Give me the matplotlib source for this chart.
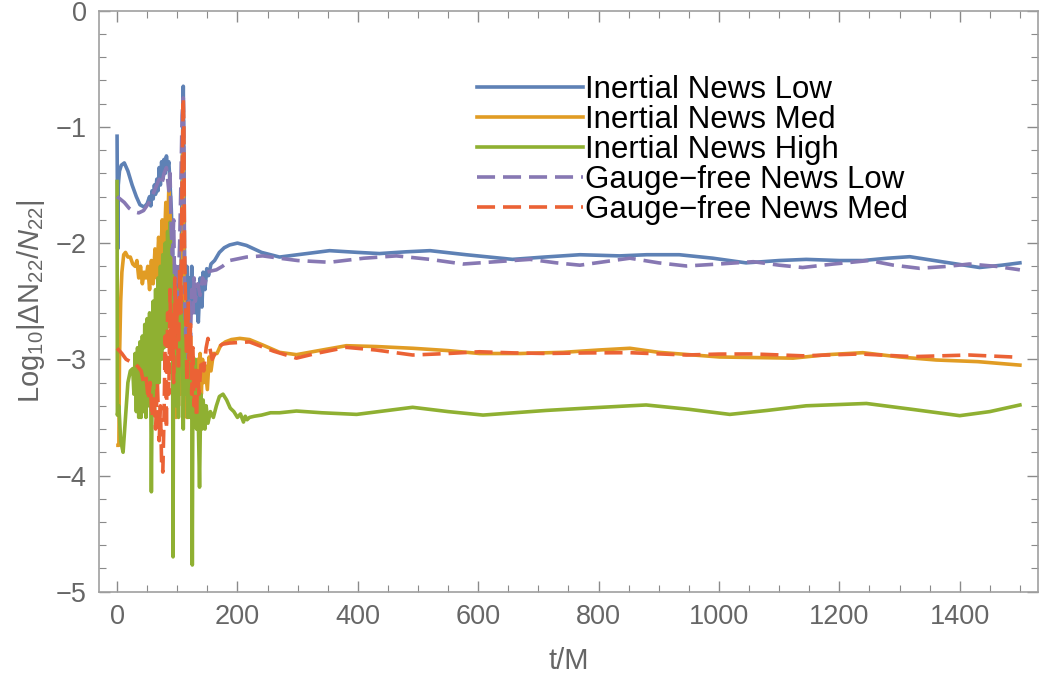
import matplotlib
matplotlib.use("Agg")
import matplotlib.pyplot as plt
from matplotlib.ticker import MultipleLocator

plt.rcParams['font.family'] = ['Liberation Sans', 'DejaVu Sans']
plt.rcParams['mathtext.fontset'] = 'custom'
plt.rcParams['mathtext.rm'] = 'Liberation Sans'
plt.rcParams['mathtext.it'] = 'Liberation Sans:italic'

# Inertial News Low
t_low = [0, 1, 2, 4, 7, 12, 18, 25, 32, 38, 45, 50, 54, 56, 58, 60, 62, 64, 66, 68,
         70, 72, 74, 76, 78, 80, 82, 84, 86, 88, 90, 92, 94, 96, 98, 100, 102, 104, 106, 108,
         110, 111, 112, 114, 116, 118, 120, 122, 124, 126, 128, 130, 132, 135, 138, 141, 143, 146, 149, 152,
         156, 162, 170, 178, 187, 200, 215, 240, 270, 300, 353, 400, 436, 480, 520, 580, 657, 710, 769, 835,
         880, 934, 990, 1045, 1100, 1145, 1200, 1239, 1280, 1317, 1370, 1433, 1470, 1500]
y_low = [-1.08, -2.05, -1.5, -1.38, -1.33, -1.31, -1.38, -1.5, -1.6, -1.67, -1.69, -1.66, -1.6, -1.68, -1.55, -1.62, -1.5, -1.58, -1.45, -1.55,
         -1.35, -1.5, -1.3, -1.45, -1.28, -1.4, -1.25, -1.35, -1.3, -1.5, -1.7, -2.0, -2.4, -2.2, -2.6, -2.3, -2.55, -2.2, -2.5, -1.5,
         -0.65, -1.2, -2.1, -2.5, -2.2, -2.6, -2.3, -2.5, -2.2, -2.55, -2.35, -2.6, -2.4, -2.68, -2.3, -2.55, -2.25, -2.4, -2.22, -2.28,
         -2.18, -2.15, -2.08, -2.04, -2.016, -2.0, -2.02, -2.08, -2.12, -2.1, -2.065, -2.08, -2.09, -2.075, -2.065, -2.1, -2.14, -2.12, -2.10, -2.11,
         -2.10, -2.10, -2.13, -2.17, -2.15, -2.14, -2.15, -2.15, -2.13, -2.117, -2.16, -2.21, -2.19, -2.17]

# Inertial News Med
t_med = [1.5, 3, 4, 6, 8, 11, 14, 18, 22, 26, 30, 33, 36, 39, 42, 45, 48, 51, 54, 57,
         60, 63, 66, 69, 72, 75, 78, 81, 84, 86, 88, 90, 92, 94, 96, 98, 100, 102, 104, 106,
         108, 110, 112, 114, 116, 118, 120, 122, 124, 126, 128, 130, 132, 134, 136, 138, 140, 142, 144, 146,
         150, 153, 156, 160, 166, 172, 180, 190, 204, 220, 242, 270, 298, 330, 381, 430, 491, 550, 602, 670,
         741, 800, 852, 900, 1001, 1060, 1123, 1180, 1239, 1300, 1361, 1430, 1500]
y_med = [-3.74, -3.74, -3.0, -2.5, -2.25, -2.1, -2.08, -2.12, -2.12, -2.18, -2.2, -2.15, -2.3, -2.2, -2.35, -2.25, -2.3, -2.2, -2.4, -2.15,
         -2.35, -2.05, -2.3, -1.95, -2.2, -1.8, -2.1, -1.65, -1.9, -1.52, -1.75, -2.0, -2.5, -3.3, -2.6, -3.5, -2.7, -3.4, -2.5, -3.3,
         -2.8, -1.2, -3.2, -2.9, -3.5, -2.7, -3.4, -2.8, -3.5, -3.0, -3.3, -3.1, -3.45, -3.0, -3.3, -2.95, -3.3, -3.0, -3.2, -3.05,
         -3.26, -2.98, -3.1, -2.95, -2.95, -2.88, -2.85, -2.83, -2.82, -2.83, -2.877, -2.94, -2.96, -2.93, -2.883, -2.89, -2.905, -2.925, -2.95, -2.95,
         -2.94, -2.92, -2.905, -2.94, -2.98, -2.985, -2.99, -2.96, -2.943, -2.98, -3.006, -3.02, -3.05]

# Inertial News High
t_high = [0, 0.5, 3, 6, 10, 14, 18, 22, 26, 28, 30, 32, 34, 36, 38, 40, 42, 44, 46, 48,
          50, 52, 54, 56, 57, 58, 60, 62, 64, 66, 68, 70, 72, 74, 76, 78, 80, 82, 84, 86,
          88, 90, 92, 93, 94, 96, 98, 100, 102, 104, 106, 108, 110, 112, 114, 116, 118, 120, 122, 124,
          125, 126, 128, 130, 132, 134, 137, 139, 141, 143, 146, 148, 151, 155, 160, 165, 170, 176, 182, 188,
          194, 200, 205, 210, 213, 216, 220, 228, 240, 255, 270, 298, 340, 398, 450, 491, 550, 608, 660, 713,
          780, 852, 879, 950, 1018, 1080, 1145, 1245, 1320, 1400, 1450, 1500]
y_high = [-1.47, -3.48, -3.4, -3.7, -3.8, -3.5, -3.2, -3.1, -3.08, -3.3, -2.95, -3.45, -2.9, -3.5, -2.85, -3.5, -2.8, -3.45, -2.7, -3.5,
          -2.65, -3.4, -2.6, -3.3, -4.14, -3.45, -2.5, -3.45, -2.4, -3.3, -2.3, -3.2, -2.2, -3.0, -2.1, -2.9, -2.0, -2.8, -1.9, -2.7,
          -1.82, -2.6, -2.2, -4.70, -2.5, -2.3, -3.4, -2.4, -3.5, -2.6, -3.0, -2.5, -3.6, -2.8, -3.3, -3.0, -3.5, -2.9, -3.5, -3.0,
          -4.77, -3.2, -3.4, -3.0, -3.6, -3.25, -4.10, -3.3, -3.6, -3.35, -3.6, -3.4, -3.55, -3.45, -3.5, -3.4, -3.32, -3.3, -3.35, -3.42,
          -3.45, -3.5, -3.47, -3.54, -3.49, -3.52, -3.5, -3.49, -3.48, -3.46, -3.46, -3.445, -3.46, -3.474, -3.44, -3.413, -3.45, -3.48, -3.46, -3.44,
          -3.42, -3.40, -3.393, -3.43, -3.474, -3.44, -3.40, -3.38, -3.43, -3.485, -3.45, -3.393]

# Gauge-free News Low
t_gf_low = [0, 5, 12, 20, 28, 36, 44, 52, 58, 62, 66, 70, 74, 78, 82, 86, 88, 90, 92, 94,
            96, 98, 100, 102, 104, 106, 108, 110, 111, 112, 114, 116, 118, 120, 122, 124, 126, 128, 130, 134,
            138, 142, 146, 150, 156, 165, 175, 187, 215, 242, 270, 300, 353, 410, 464, 520, 575, 630, 686, 730,
            769, 810, 852, 900, 946, 1000, 1057, 1100, 1139, 1190, 1250, 1290, 1333, 1380, 1416, 1460, 1500]
y_gf_low = [-1.6, -1.62, -1.65, -1.7, -1.73, -1.74, -1.72, -1.66, -1.6, -1.55, -1.5, -1.45, -1.5, -1.4, -1.35, -1.55, -1.4, -1.9, -2.1, -1.8,
            -2.5, -2.2, -2.6, -2.3, -2.0, -1.5, -0.9, -0.75, -1.3, -2.4, -2.8, -2.6, -3.0, -2.5, -2.8, -2.4, -2.6, -2.3, -2.5, -2.35,
            -2.45, -2.3, -2.35, -2.25, -2.24, -2.23, -2.2, -2.15, -2.12, -2.11, -2.13, -2.15, -2.165, -2.13, -2.11, -2.14, -2.18, -2.16, -2.14, -2.17,
            -2.19, -2.16, -2.13, -2.17, -2.197, -2.18, -2.16, -2.19, -2.21, -2.18, -2.15, -2.19, -2.217, -2.2, -2.18, -2.2, -2.23]

# Gauge-free News Med
t_gf_med = [0, 8, 15, 22, 28, 34, 40, 44, 48, 52, 55, 58, 61, 64, 67, 70, 72, 74, 76, 78,
            80, 82, 84, 86, 88, 90, 92, 94, 96, 98, 100, 102, 104, 106, 108, 110, 111, 112, 114, 116,
            118, 120, 122, 124, 126, 128, 130, 132, 134, 136, 140, 144, 148, 151, 154, 158, 163, 168, 175, 187,
            220, 260, 298, 330, 381, 430, 491, 550, 602, 660, 713, 780, 852, 946, 1000, 1057, 1139, 1234, 1322, 1416,
            1500]
y_gf_med = [-2.905, -2.95, -3.0, -3.02, -3.03, -3.06, -3.1, -3.2, -3.15, -3.35, -3.2, -3.5, -3.3, -3.6, -3.2, -3.7, -3.4, -3.9, -3.97, -3.5,
            -2.8, -3.6, -2.6, -3.3, -2.4, -3.0, -2.6, -3.2, -2.3, -2.9, -2.5, -3.1, -2.2, -2.6, -1.4, -0.75, -1.0, -2.0, -2.6, -3.2,
            -2.5, -3.0, -2.7, -3.3, -2.9, -3.4, -3.05, -3.5, -3.1, -3.3, -3.0, -3.1, -2.9, -2.82, -2.9, -3.0, -2.95, -2.9, -2.87, -2.86,
            -2.85, -2.93, -2.99, -2.95, -2.897, -2.92, -2.963, -2.95, -2.935, -2.945, -2.95, -2.945, -2.943, -2.963, -2.955, -2.954, -2.97, -2.954, -2.977, -2.963,
            -2.983]

labels = ["Inertial News Low", "Inertial News Med", "Inertial News High",
          "Gauge\u2212free News Low", "Gauge\u2212free News Med"]
colors = ["#5E81B5", "#E19C24", "#8FB032", "#8778B3", "#EB6235"]

fig = plt.figure(figsize=(10.39, 6.81), dpi=100)
ax = fig.add_axes([0.0953, 0.1311, 0.9037, 0.8532])

lw = 2.6
ax.plot(t_low, y_low, color=colors[0], lw=lw, label=labels[0])
ax.plot(t_med, y_med, color=colors[1], lw=lw, label=labels[1])
ax.plot(t_high, y_high, color=colors[2], lw=lw, label=labels[2])
ax.plot(t_gf_low, y_gf_low, color=colors[3], lw=lw, dashes=(5, 2.2), label=labels[3])
ax.plot(t_gf_med, y_gf_med, color=colors[4], lw=lw, dashes=(5, 2.2), label=labels[4])

ax.set_xlim(-30, 1530)
ax.set_ylim(-5, 0)
ax.xaxis.set_major_locator(MultipleLocator(200))
ax.xaxis.set_minor_locator(MultipleLocator(50))
ax.yaxis.set_major_locator(MultipleLocator(1))
ax.yaxis.set_minor_locator(MultipleLocator(0.2))

for s in ax.spines.values():
    s.set_color("#a0a0a0")
    s.set_linewidth(1.2)
ax.tick_params(which="both", direction="in", top=True, right=True, colors="#8a8a8a",
               labelcolor="#666666", labelsize=19.5, pad=9)
ax.tick_params(which="major", length=8, width=1.0)
ax.tick_params(which="minor", length=5, width=0.8)

ax.set_xlabel("t/M", fontsize=21, color="#666666", labelpad=12)
ax.set_ylabel(r"Log$_{10}$|ΔN$_{22}$/$N_{22}$|", fontsize=21, color="#666666", labelpad=6)

leg = ax.legend(loc="upper left", bbox_to_anchor=(0.4026, 0.889), frameon=False, fontsize=22.5,
                handlelength=3.4, handletextpad=0.05, labelspacing=0.0, borderaxespad=0,
                borderpad=0)

fig.savefig("out.png", dpi=100)
